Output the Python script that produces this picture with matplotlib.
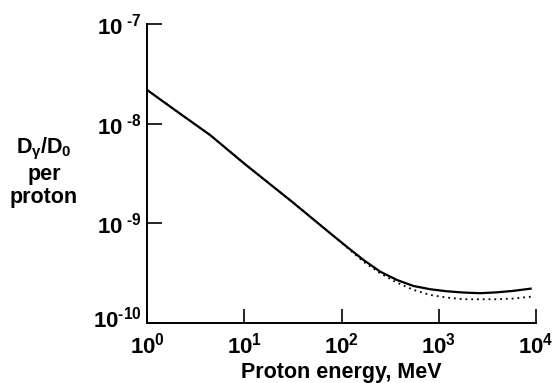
import matplotlib
matplotlib.use("Agg")
import matplotlib.pyplot as plt
from matplotlib.transforms import ScaledTranslation

plt.rcParams['font.family'] = ['Liberation Sans', 'DejaVu Sans']
plt.rcParams['font.weight'] = 'bold'
plt.rcParams['mathtext.fontset'] = 'custom'
plt.rcParams['mathtext.rm'] = 'Liberation Sans:bold'
plt.rcParams['mathtext.it'] = 'Liberation Sans:bold'
plt.rcParams['mathtext.bf'] = 'Liberation Sans:bold'
plt.rcParams['mathtext.sf'] = 'Liberation Sans:bold'

# Data
energy_solid = [1, 2.1, 4.45, 10, 31.6, 76.4, 113, 168, 250, 371, 549, 817,
                1212, 1795, 2667, 3963, 5861, 8810]
dose_solid = [2.19e-8, 1.30e-8, 7.71e-9, 3.98e-9, 1.62e-9, 7.94e-10, 5.82e-10,
              4.28e-10, 3.26e-10, 2.69e-10, 2.34e-10, 2.17e-10, 2.07e-10,
              2.01e-10, 1.98e-10, 2.02e-10, 2.09e-10, 2.20e-10]
energy_dotted = [1, 2.1, 4.45, 10, 31.6, 76.4, 113, 168, 250, 371, 549, 817,
                 1212, 1795, 3963, 5861, 9080]
dose_dotted = [2.19e-8, 1.30e-8, 7.71e-9, 3.98e-9, 1.62e-9, 7.94e-10, 5.75e-10,
               4.11e-10, 3.14e-10, 2.53e-10, 2.14e-10, 1.90e-10, 1.79e-10,
               1.72e-10, 1.72e-10, 1.75e-10, 1.83e-10]

xticks = [1, 10, 100, 1000, 10000]
xticklabels = [r"$10^{0}$", r"$10^{1}$", r"$10^{2}$", r"$10^{3}$", r"$10^{4}$"]
yticks = [1e-10, 1e-9, 1e-8, 1e-7]
yticklabels = [r"$10^{\text{-}10}$", r"$10^{\,\,\text{-}9}$",
               r"$10^{\,\,\text{-}8}$", r"$10^{\,\,\text{-}7}$"]

fig = plt.figure(figsize=(5.58, 3.83), dpi=100)
ax = fig.add_axes([147/558, 1 - 322.7/383, (536 - 147)/558, (322.7 - 24.3)/383])

ax.plot(energy_dotted, dose_dotted, color='black', lw=1.3, linestyle=(0, (1, 2.2)))
ax.plot(energy_solid, dose_solid, color='black', lw=1.6)

ax.set_xscale('log')
ax.set_yscale('log')
ax.set_xlim(1, 1e4)
ax.set_ylim(1e-10, 1e-7)
ax.set_xticks(xticks)
ax.set_xticklabels(xticklabels)
ax.set_yticks(yticks)
ax.set_yticklabels(yticklabels)
ax.minorticks_off()

for s in ['top', 'right']:
    ax.spines[s].set_visible(False)
for s in ['left', 'bottom']:
    ax.spines[s].set_linewidth(1.4)

ax.tick_params(axis='y', direction='in', length=11, width=1.2, pad=4, labelsize=16)
ax.tick_params(axis='x', direction='in', length=10, width=1.2, pad=7, labelsize=16)

# lift the lowest y label a little, as in the reference
lab0 = ax.yaxis.get_major_ticks()[0].label1
lab0.set_transform(lab0.get_transform() + ScaledTranslation(0, 4/72, fig.dpi_scale_trans))

ax.set_xlabel("Proton energy, MeV", fontsize=15.5, fontweight='bold', labelpad=3)

fig.text(44/558, 1 - 172/383, r"$D_{\gamma}/D_0$" + "\nper\nproton",
         ha='center', va='center', fontsize=15.5, fontweight='bold',
         linespacing=1.1, multialignment='center')

fig.savefig("out.png", dpi=100)
